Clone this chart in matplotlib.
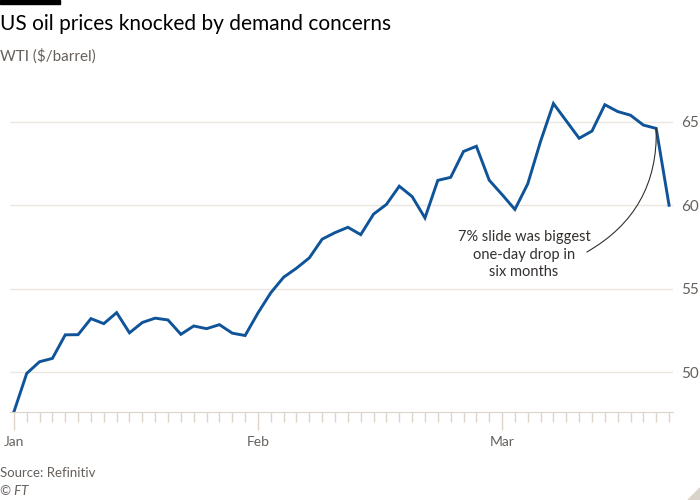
import matplotlib
matplotlib.use("Agg")
import matplotlib.pyplot as plt
from matplotlib.patches import Rectangle, Polygon

# WTI closing prices, trading days from 4 Jan 2021 to 18 Mar 2021
dates = ["Jan 4", "Jan 5", "Jan 6", "Jan 7", "Jan 8",
         "Jan 11", "Jan 12", "Jan 13", "Jan 14", "Jan 15",
         "Jan 19", "Jan 20", "Jan 21", "Jan 22",
         "Jan 25", "Jan 26", "Jan 27", "Jan 28", "Jan 29",
         "Feb 1", "Feb 2", "Feb 3", "Feb 4", "Feb 5",
         "Feb 8", "Feb 9", "Feb 10", "Feb 11", "Feb 12",
         "Feb 16", "Feb 17", "Feb 18", "Feb 19",
         "Feb 22", "Feb 23", "Feb 24", "Feb 25", "Feb 26",
         "Mar 1", "Mar 2", "Mar 3", "Mar 4", "Mar 5",
         "Mar 8", "Mar 9", "Mar 10", "Mar 11", "Mar 12",
         "Mar 15", "Mar 16", "Mar 17", "Mar 18"]
wti = [47.62, 49.93, 50.63, 50.83, 52.24,
       52.25, 53.21, 52.91, 53.57, 52.36,
       52.98, 53.24, 53.13, 52.27,
       52.77, 52.61, 52.85, 52.34, 52.20,
       53.55, 54.76, 55.69, 56.23, 56.85,
       57.97, 58.36, 58.68, 58.24, 59.47,
       60.05, 61.14, 60.52, 59.24,
       61.49, 61.67, 63.22, 63.53, 61.50,
       60.64, 59.75, 61.28, 63.83, 66.09,
       65.05, 64.01, 64.44, 66.02, 65.61,
       65.39, 64.80, 64.60, 60.00]
month_labels = ["Jan", "Feb", "Mar"]
y_ticks = [50, 55, 60, 65]

plt.rcParams["font.family"] = ["Lato", "DejaVu Sans"]

blue = "#0f5499"
grey = "#66605c"
grid_col = "#ebe6e0"
tick_col = "#ddd5cc"

fig = plt.figure(figsize=(7, 5), dpi=100)
fig.patch.set_facecolor("white")
ax = fig.add_axes([0.0143, 0.176, 0.947, 0.644])

x = list(range(len(wti)))
ax.plot(x, wti, color=blue, lw=2.1, solid_joinstyle="miter", zorder=3)

ax.set_xlim(-0.3, len(wti) - 1 + 0.3)
ax.set_ylim(wti[0], 66.9)

# month ticks at first trading day of each month
month_pos = [i for i, d in enumerate(dates)
             if i == 0 or d.split()[0] != dates[i - 1].split()[0]]
ax.set_xticks(month_pos)
ax.set_xticklabels(month_labels)
ax.set_xticks(x, minor=True)
ax.tick_params(axis="x", which="major", length=13, width=1, color=tick_col,
               labelsize=10, labelcolor=grey, pad=4)
ax.tick_params(axis="x", which="minor", length=7, width=1, color=tick_col)

ax.set_yticks(y_ticks)
ax.yaxis.tick_right()
ax.tick_params(axis="y", length=0, labelsize=11, labelcolor=grey, pad=6)
ax.grid(axis="y", color=grid_col, lw=1)

for s in ["top", "left", "right"]:
    ax.spines[s].set_visible(False)
ax.spines["bottom"].set_color(tick_col)

# annotation
ax.text(39.7, 57.05, "7% slide was biggest\none-day drop in\nsix months",
        ha="center", va="center", fontsize=10.5, color="#33302e",
        linespacing=1.3)
ax.annotate("", xy=(50, wti[50]), xytext=(44.6, 57.2),
            arrowprops=dict(arrowstyle="-", color="#33302e", lw=0.8,
                            connectionstyle="arc3,rad=0.3",
                            shrinkA=0, shrinkB=0))

# header and footer
fig.patches.append(Rectangle((0, 0.992), 60 / 700, 0.008, transform=fig.transFigure,
                             color="black", figure=fig))
fig.text(0.0, 0.952, "US oil prices knocked by demand concerns", fontsize=15,
         color="black", va="center", ha="left")
fig.text(0.0, 0.888, "WTI ($/barrel)", fontsize=11, color=grey,
         va="center", ha="left")
fig.text(0.0, 0.054, "Source: Refinitiv", fontsize=9.5, color=grey,
         va="center", ha="left")
fig.text(0.0, 0.018, "© FT", fontsize=9.5, color=grey, style="italic",
         va="center", ha="left")
fig.patches.append(Polygon([(1.0, 0.0), (1.0, 0.024), (0.983, 0.0)],
                           closed=True, transform=fig.transFigure,
                           color="#d9d3cc", figure=fig))

fig.savefig("out.png", dpi=100, facecolor="white")
